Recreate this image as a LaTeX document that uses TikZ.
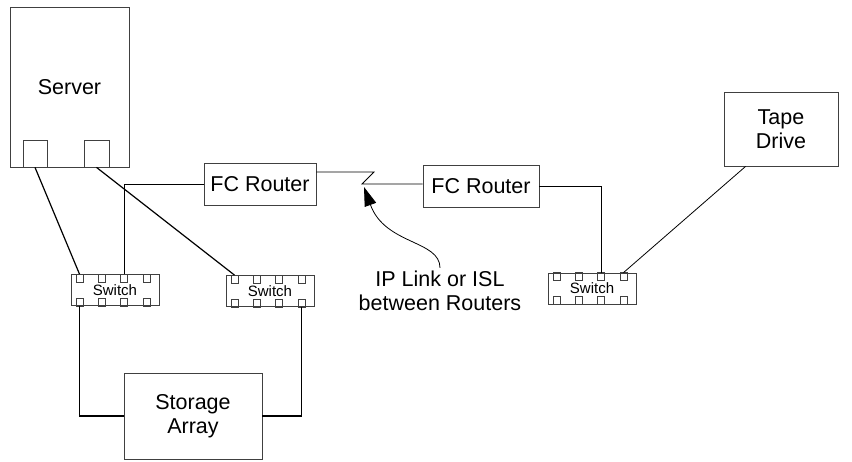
\documentclass[tikz,border=0pt]{standalone}
\usepackage{fontspec}
\setmainfont{Liberation Sans}
\usetikzlibrary{arrows.meta,calc}
\newcommand{\swnode}[3]{%
  \node[sw] (#1) at (#2,#3) {Switch};
  \foreach \i/\o in {1/-35.5,2/-13.5,3/9,4/31.5}{
    \draw[sqr] ($(#1.north)+(\o-3.5,0)$) rectangle ++(7,8);
    \draw[sqr] ($(#1.south)+(\o-3.5,0)$) rectangle ++(7,-8);
    \coordinate (#1-t\i) at ($(#1.north)+(\o,0)$);
    \coordinate (#1-b\i) at ($(#1.south)+(\o,0)$);
  }}
\begin{document}
\begin{tikzpicture}[x=1pt,y=-1pt,
  box/.style={draw=black!75, line width=0.8pt, inner sep=0pt, font=\fontsize{21.5}{24}\selectfont, align=center},
  sw/.style={draw=black!75, line width=0.8pt, minimum width=88pt, minimum height=31pt, inner sep=0pt, font=\fontsize{15}{16}\selectfont},
  sqr/.style={draw=black!75, line width=0.7pt},
  heavy/.style={line width=1.2pt, draw=black},
  light/.style={line width=0.8pt, draw=black}]
\useasboundingbox (0,0) rectangle (852,461);
% server
\node[box, minimum width=119pt, minimum height=160pt] (server) at (69.5,87) {Server};
\node[box, minimum width=24pt, minimum height=27pt] (p1) at (35,153.5) {};
\node[box, minimum width=25pt, minimum height=27pt] (p2) at (96.5,153.5) {};
% routers
\node[box, minimum width=112pt, minimum height=42pt] (r1) at (260,184) {FC Router};
\node[box, minimum width=116pt, minimum height=42pt] (r2) at (481,186) {FC Router};
% storage, tape
\node[box, minimum width=138pt, minimum height=86pt] (st) at (193,416) {Storage\\Array};
\node[box, minimum width=114pt, minimum height=74pt] (tape) at (781,129) {Tape\\Drive};
% switches
\swnode{sw1}{115}{290}
\swnode{sw2}{270}{291}
\swnode{sw3}{592}{288.5}
% links
\draw[heavy] (p1.south) -- (sw1-t1);
\draw[heavy] (p2.south) -- (sw2-t1);
\draw[light] (sw1-t3) |- (r1.west);
\draw[heavy] (sw1-b1) |- (st.west);
\draw[heavy] (sw2-b4) |- (st.east);
\coordinate (zz1) at (374,172);
\coordinate (zz2) at (362,184);
\draw[light] ($(r1.east)+(0,-12)$) -- (zz1) -- (zz2) -- (zz2 -| r2.west);
\draw[light] (r2.east) -| (sw3-t3);
\coordinate (tp) at ($(tape.south west)+(22,0)$);
\draw[light] (tp) -- (sw3-t4);
% label
\node[inner sep=0pt, font=\fontsize{21.5}{24}\selectfont, align=center] (lbl) at (440,291) {IP Link or ISL\\between Routers};
\draw[light, -{Triangle[length=19pt,width=12pt]}] ([yshift=3pt]lbl.north) .. controls (440,240) and (385,245) .. (364,187);
\end{tikzpicture}
\end{document}
